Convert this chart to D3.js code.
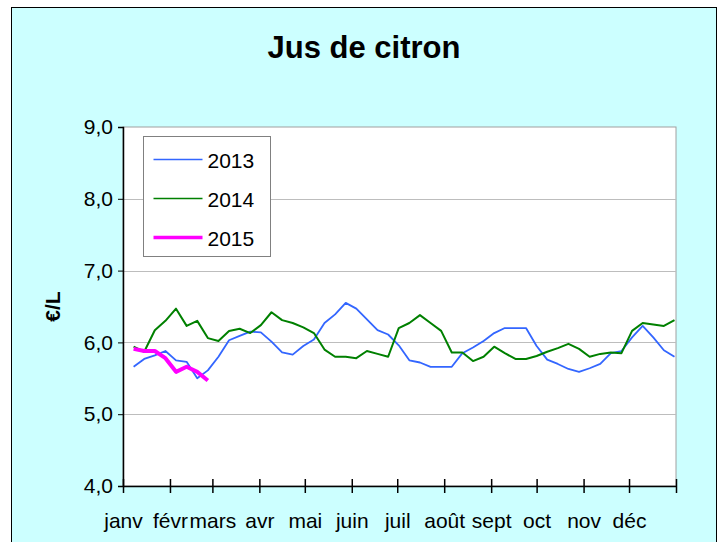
<!DOCTYPE html>
<html>
<head>
  <meta charset="utf-8">
  <style>
    body { margin: 0; background: #fff; }
    text { font-family: Arial, "Liberation Sans", sans-serif; fill: #000; }
    .title { font-size: 31px; font-weight: bold; }
    .axis-label { font-size: 21px; font-weight: bold; }
    .tick text { font-size: 21px; }
    .legend text { font-size: 21px; }
    .line { fill: none; stroke-linejoin: round; }
  </style>
  <title>Jus de citron</title>
</head>
<body>
  <script src="https://cdn.jsdelivr.net/npm/d3@7"></script>
  <script>
    // data: weekly prices (EUR / L)
    const weeks = [1, 2, 3, 4, 5, 6, 7, 8, 9, 10, 11, 12, 13, 14, 15, 16, 17, 18, 19, 20,
      21, 22, 23, 24, 25, 26, 27, 28, 29, 30, 31, 32, 33, 34, 35, 36, 37, 38, 39, 40,
      41, 42, 43, 44, 45, 46, 47, 48, 49, 50, 51, 52];
    const years = ["2013", "2014", "2015"];
    const values2013 = [5.66, 5.77, 5.82, 5.88, 5.75, 5.73, 5.50, 5.61, 5.80, 6.03,
      6.09, 6.15, 6.14, 6.01, 5.86, 5.83, 5.95, 6.04, 6.27, 6.39,
      6.55, 6.47, 6.32, 6.17, 6.11, 5.96, 5.75, 5.72, 5.66, 5.66,
      5.66, 5.85, 5.93, 6.02, 6.13, 6.20, 6.20, 6.20, 5.95, 5.76,
      5.70, 5.63, 5.59, 5.64, 5.70, 5.85, 5.88, 6.07, 6.23, 6.07,
      5.89, 5.80];
    const values2014 = [5.94, 5.87, 6.17, 6.30, 6.47, 6.23, 6.30, 6.06, 6.02, 6.16,
      6.19, 6.13, 6.24, 6.42, 6.31, 6.27, 6.21, 6.13, 5.90, 5.80,
      5.80, 5.78, 5.88, 5.84, 5.80, 6.20, 6.27, 6.38, 6.27, 6.16,
      5.86, 5.86, 5.74, 5.80, 5.94, 5.85, 5.77, 5.77, 5.81, 5.87,
      5.92, 5.98, 5.91, 5.80, 5.84, 5.86, 5.85, 6.16, 6.27, 6.25,
      6.23, 6.31];
    const values2015 = [5.91, 5.88, 5.88, 5.78, 5.59, 5.66, 5.59, 5.47];
    const monthLabels = ["janv", "févr", "mars", "avr", "mai", "juin",
      "juil", "août", "sept", "oct", "nov", "déc"];
    const yTicks = [4, 5, 6, 7, 8, 9];

    const colors = ["#3366ff", "#008000", "#ff00ff"];
    const widths = [1.8, 2, 4];

    // dimensions of the plot area
    const margin = { top: 127, right: 47, bottom: 56, left: 123 };
    const W = 723, H = 542;
    const width = W - margin.left - margin.right;
    const height = H - margin.top - margin.bottom;

    const fr = d3.formatLocale({ decimal: ",", thousands: " ", grouping: [3], currency: ["", " €"] });

    const start = new Date(2013, 0, 1), end = new Date(2014, 0, 1);
    const x = d3.scaleTime().domain([start, end]).range([0, width]);
    const y = d3.scaleLinear().domain([4, 9]).range([height, 0]);
    const weekDate = w => d3.timeDay.offset(start, 7 * w);

    const svg = d3.select("body").append("svg")
      .attr("width", W)
      .attr("height", H);

    // chart background + border
    svg.append("rect")
      .attr("x", 11.5).attr("y", 7.5)
      .attr("width", 705).attr("height", 540)
      .attr("fill", "#ccffff")
      .attr("stroke", "#000");

    const container = svg.append("g")
      .attr("transform", `translate(${margin.left},${margin.top})`);

    container.append("rect")
      .attr("width", width).attr("height", height)
      .attr("fill", "#fff")
      .attr("stroke", "#a0a0a0");

    // gridlines
    container.append("g")
      .selectAll("line")
      .data(yTicks.slice(1, -1))
      .enter().append("line")
      .attr("x1", 0).attr("x2", width)
      .attr("y1", d => Math.round(y(d)) + 0.5)
      .attr("y2", d => Math.round(y(d)) + 0.5)
      .attr("stroke", "#bdbdbd");

    // lines
    const series = [values2013, values2014, values2015];
    const line = d3.line()
      .x((d, i) => x(weekDate(weeks[i])))
      .y(d => y(d));

    series.forEach((vals, k) => {
      container.append("path")
        .datum(vals)
        .attr("class", "line")
        .attr("stroke", colors[k])
        .attr("stroke-width", widths[k])
        .attr("d", line);
    });

    // Y axis
    const yAxis = container.append("g")
      .call(d3.axisLeft(y).tickValues(yTicks).tickFormat(fr.format(".1f")).tickSize(5).tickPadding(5));
    yAxis.select(".domain").attr("stroke", "#000").attr("stroke-width", 1.5);
    yAxis.selectAll(".tick line").attr("stroke", "#000");
    yAxis.selectAll(".tick text").attr("font-family", null).attr("font-size", null);

    // X axis: month ticks crossing the axis
    const months = d3.timeMonth.range(start, d3.timeDay.offset(end, 1));
    const xAxis = container.append("g")
      .attr("transform", `translate(0,${height})`)
      .call(d3.axisBottom(x).tickValues(months).tickSize(0).tickPadding(27)
        .tickFormat((d, i) => monthLabels[i] || ""));
    xAxis.select(".domain").attr("stroke", "#000").attr("stroke-width", 1.5);
    xAxis.selectAll(".tick text").attr("font-family", null).attr("font-size", null);
    xAxis.selectAll(".tick").append("line")
      .attr("y1", -7).attr("y2", 7)
      .attr("stroke", "#000").attr("stroke-width", 1.5);

    // y axis label
    svg.append("text")
      .attr("class", "axis-label")
      .attr("transform", `translate(60,${margin.top + height / 2}) rotate(-90)`)
      .attr("text-anchor", "middle")
      .text("€/L");

    // title
    svg.append("text")
      .attr("class", "title")
      .attr("x", 364)
      .attr("y", 58)
      .attr("text-anchor", "middle")
      .text("Jus de citron");

    // legend
    const legend = svg.append("g").attr("class", "legend")
      .attr("transform", "translate(143.5,136.5)");
    legend.append("rect")
      .attr("width", 127).attr("height", 120)
      .attr("fill", "#fff").attr("stroke", "#808080");
    years.forEach((yr, k) => {
      const ly = 23 + k * 39;
      legend.append("line")
        .attr("x1", 10).attr("x2", 59)
        .attr("y1", ly).attr("y2", ly)
        .attr("stroke", colors[k])
        .attr("stroke-width", widths[k] === 4 ? 3.5 : 1.5);
      legend.append("text")
        .attr("x", 64).attr("y", ly + 8)
        .text(yr);
    });
  </script>
</body>
</html>
